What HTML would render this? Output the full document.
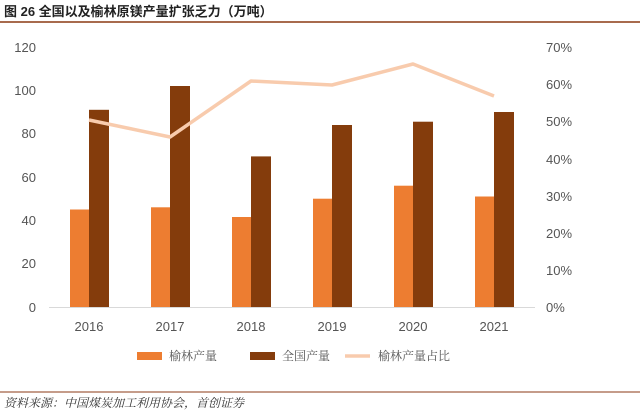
<!DOCTYPE html>
<html><head><meta charset="utf-8"><style>
body{margin:0;background:#fff;width:640px;height:412px;overflow:hidden;font-family:"Liberation Sans","Noto Sans CJK SC",sans-serif}
</style></head><body>
<svg width="640" height="412" xmlns="http://www.w3.org/2000/svg" font-family="Liberation Sans, Noto Sans CJK SC, sans-serif">
<text x="4" y="16" font-size="13" font-weight="bold" fill="#222">图 26  全国以及榆林原镁产量扩张乏力（万吨）</text>
<line x1="0" y1="22" x2="640" y2="22" stroke="#8b3a14" stroke-width="1.5"/>
<g font-size="13" fill="#555" text-anchor="end">
<text x="36" y="52">120</text><text x="36" y="95">100</text><text x="36" y="138">80</text><text x="36" y="182">60</text><text x="36" y="225">40</text><text x="36" y="268">20</text><text x="36" y="312">0</text>
</g>
<g font-size="13" fill="#555" text-anchor="start">
<text x="546" y="52">70%</text><text x="546" y="89">60%</text><text x="546" y="126">50%</text><text x="546" y="164">40%</text><text x="546" y="201">30%</text><text x="546" y="238">20%</text><text x="546" y="275">10%</text><text x="546" y="312">0%</text>
</g>
<line x1="49" y1="307.5" x2="535" y2="307.5" stroke="#d9d9d9"/>
<g fill="#ed7d31">
<rect x="70" y="209.5" width="19" height="97.5"/>
<rect x="151" y="207.3" width="19" height="99.7"/>
<rect x="232" y="217" width="19" height="90"/>
<rect x="313" y="198.7" width="19" height="108.3"/>
<rect x="394" y="185.7" width="19" height="121.3"/>
<rect x="475" y="196.5" width="19" height="110.5"/>
</g>
<g fill="#843c0c">
<rect x="89" y="109.8" width="20" height="197.2"/>
<rect x="170" y="86" width="20" height="221"/>
<rect x="251" y="156.4" width="20" height="150.6"/>
<rect x="332" y="125" width="20" height="182"/>
<rect x="413" y="121.7" width="20" height="185.3"/>
<rect x="494" y="112" width="20" height="195"/>
</g>
<polyline points="89,120 170,137 251,81 332,85 413,64 494,96" fill="none" stroke="#f8cbad" stroke-width="3.5" stroke-linejoin="round"/>
<g font-size="13" fill="#555" text-anchor="middle">
<text x="89" y="331">2016</text><text x="170" y="331">2017</text><text x="251" y="331">2018</text><text x="332" y="331">2019</text><text x="413" y="331">2020</text><text x="494" y="331">2021</text>
</g>
<g font-family="Liberation Serif, Noto Serif CJK SC, serif">
<rect x="137" y="352" width="25" height="8" fill="#ed7d31"/>
<text x="169" y="360" font-size="12" fill="#555">榆林产量</text>
<rect x="250" y="352" width="25" height="8" fill="#843c0c"/>
<text x="282" y="360" font-size="12" fill="#555">全国产量</text>
<line x1="345" y1="356" x2="370" y2="356" stroke="#f8cbad" stroke-width="3.5"/>
<text x="378" y="360" font-size="12" fill="#555">榆林产量占比</text>
</g>
<line x1="0" y1="392" x2="640" y2="392" stroke="#8b3a14" stroke-width="1"/>
<text x="4" y="407" font-size="12" font-style="italic" fill="#333" font-family="Liberation Serif, Noto Serif CJK SC, serif">资料来源：中国煤炭加工利用协会，首创证券</text>
</svg>
</body></html>
